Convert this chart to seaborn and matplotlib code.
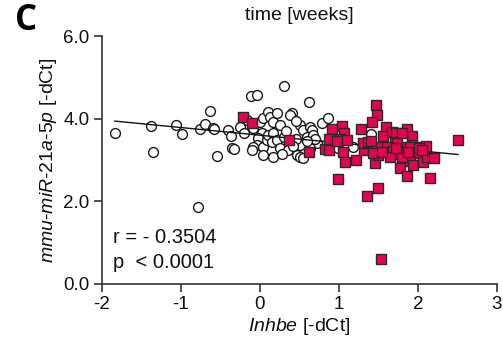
import numpy as np
import pandas as pd
import matplotlib
matplotlib.use("Agg")
import matplotlib.pyplot as plt
import seaborn as sns

# ---- data ----
circle_x = [-1.84, -1.38, -1.35, -1.06, -0.99, -0.78, -0.76, -0.70, -0.63, -0.60, -0.58, -0.54,
            -0.41, -0.37, -0.35, -0.33, -0.16, -0.11, -0.04, 0.30, 0.62, -0.09, 0.00, 0.04,
            0.10, 0.13, 0.16, 0.21, 0.25, 0.03, -0.02, -0.04, -0.09, 0.04, 0.09, 0.10,
            0.16, 0.15, 0.21, 0.25, 0.16, 0.04, -0.10, 0.35, 0.40, 0.38, 0.51, 0.55,
            0.63, 0.66, 0.59, 0.67, 0.51, 0.47, 0.51, 0.54, 0.72, 0.78, 0.86, 0.63,
            0.99, 1.18, 1.41, 0.30, 0.33, 0.45, 0.42, 0.70, 0.60, 0.28, 0.46, -0.25, -0.20]
circle_y = [3.66, 3.83, 3.20, 3.85, 3.63, 1.86, 3.75, 3.87, 4.19, 3.78, 3.76, 3.10,
            3.73, 3.58, 3.30, 3.27, 3.97, 4.55, 4.58, 4.79, 4.41, 3.78, 3.92, 4.02,
            4.16, 4.04, 3.92, 4.14, 3.85, 3.66, 3.54, 3.37, 3.32, 3.32, 3.49, 3.61,
            3.66, 3.44, 3.49, 3.29, 3.08, 3.12, 3.24, 3.24, 4.14, 4.09, 3.85, 3.73,
            3.80, 3.73, 3.56, 3.61, 3.37, 3.12, 3.08, 3.05, 3.41, 3.90, 4.02, 3.29,
            3.29, 3.32, 3.63, 3.55, 3.70, 3.50, 3.35, 3.50, 3.45, 3.15, 3.95, 3.80, 3.65]

square_x = [-0.22, -0.10, 0.37, 0.62, 0.82, 0.87, 1.47, 1.48, 1.42, 1.28, 1.04, 1.06,
            0.91, 0.87, 1.01, 1.05, 1.08, 1.22, 1.32, 1.30, 1.37, 1.46, 0.99, 1.35,
            1.49, 1.53, 1.59, 1.56, 1.67, 1.72, 1.86, 1.92, 1.71, 1.52, 1.61, 1.68,
            1.82, 1.92, 2.03, 2.10, 1.49, 1.65, 1.77, 1.87, 1.99, 1.77, 1.86, 1.90,
            1.94, 2.06, 2.11, 2.20, 2.15, 2.51, 1.80, 1.73, 1.90, 2.01, 1.80, 1.88,
            2.05, 1.43, 1.40, 1.55, 1.72, 0.98, 1.10]
square_y = [4.04, 3.90, 3.49, 3.20, 3.27, 3.24, 4.33, 4.09, 3.92, 3.75, 3.83, 3.66,
            3.75, 3.51, 3.51, 3.20, 2.95, 3.00, 3.24, 3.41, 3.44, 2.93, 2.54, 2.13,
            2.32, 0.61, 3.80, 3.58, 3.68, 3.66, 3.75, 3.58, 3.44, 3.32, 3.32, 3.22,
            3.32, 3.37, 3.32, 3.34, 3.12, 3.08, 3.15, 3.17, 3.17, 2.81, 2.61, 2.98,
            2.88, 2.95, 3.08, 3.05, 2.57, 3.49, 3.66, 3.42, 3.32, 3.30, 3.08, 3.20,
            3.24, 3.17, 3.46, 3.20, 3.30, 3.45, 3.48]

x_ticks = [-2, -1, 0, 1, 2, 3]
y_ticks = [0.0, 2.0, 4.0, 6.0]
y_ticklabels = ["0.0", "2.0", "4.0", "6.0"]
stats_r = "r = - 0.3504"
stats_p = "p  < 0.0001"

# ---- style ----
sns.set_theme(style="white")
plt.rcParams["font.family"] = ["Liberation Sans", "DejaVu Sans"]
plt.rcParams["mathtext.fontset"] = "custom"
plt.rcParams["mathtext.it"] = "Liberation Sans:italic"
plt.rcParams["mathtext.rm"] = "Liberation Sans"

df_c = pd.DataFrame({"x": circle_x, "y": circle_y})
df_s = pd.DataFrame({"x": square_x, "y": square_y})
df_all = pd.concat([df_c, df_s], ignore_index=True)

fig = plt.figure(figsize=(5.03, 3.51), dpi=100)
ax = fig.add_axes([0.2028, 0.191, 0.988 - 0.2028, 0.897 - 0.191])

sns.scatterplot(data=df_c, x="x", y="y", marker="o", s=50, facecolor="white",
                edgecolor="#1a1a1a", linewidth=1.0, ax=ax, zorder=2, clip_on=False)
sns.regplot(data=df_all, x="x", y="y", scatter=False, ci=None, ax=ax,
            line_kws={"color": "#111111", "lw": 1.0, "zorder": 3})
sns.scatterplot(data=df_s, x="x", y="y", marker="s", s=44, color="#E6044E",
                edgecolor="#2a2a2a", linewidth=1.0, ax=ax, zorder=4, clip_on=False)

ax.set_xlim(-2, 3)
ax.set_ylim(0, 6)
ax.set_xticks(x_ticks)
ax.set_xticklabels([str(t) for t in x_ticks])
ax.set_yticks(y_ticks)
ax.set_yticklabels(y_ticklabels)
for s in ["top", "right"]:
    ax.spines[s].set_visible(False)
for s in ["left", "bottom"]:
    ax.spines[s].set_color("#333333")
    ax.spines[s].set_linewidth(1.2)
ax.tick_params(axis="both", direction="out", length=6, width=1.2, color="#333333",
               labelsize=13.5, labelcolor="#111111", left=True, bottom=True, pad=3)

ax.set_xlabel(r"$\it{Inhbe}$ [-dCt]", fontsize=14, color="#111111", labelpad=2)
ax.set_ylabel(r"$\it{mmu}$-$\it{miR}$-$\it{21a}$-$\it{5p}$ [-dCt]", fontsize=14,
              color="#111111", labelpad=3)

ax.text(-1.86, 1.13, stats_r, fontsize=14.5, color="#111111", va="center", ha="left")
ax.text(-1.86, 0.52, stats_p, fontsize=14.5, color="#111111", va="center", ha="left")

fig.text(0.596, 0.955, "time [weeks]", fontsize=14, ha="center", va="center", color="#111111")
fig.text(0.03, 0.94, "C", fontsize=25, fontweight="bold", family=["Open Sans", "DejaVu Sans"],
         ha="left", va="center", color="black")

fig.savefig("out.png", dpi=100)
